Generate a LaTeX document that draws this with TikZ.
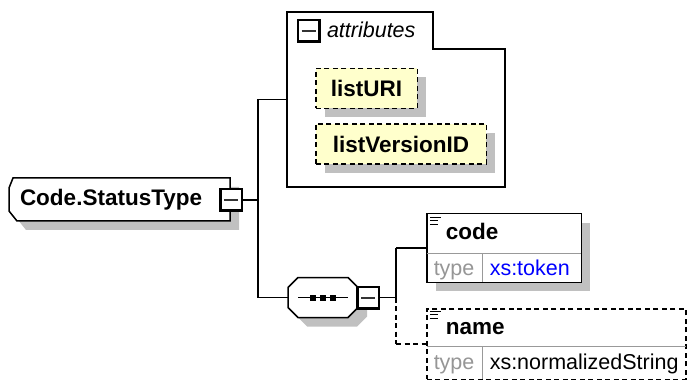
\documentclass[tikz,border=0pt]{standalone}
\usepackage{fontspec}
\setmainfont{Liberation Sans}
\usepackage{xcolor}
\usetikzlibrary{shadows, positioning, calc}

\definecolor{attrfill}{RGB}{255,255,204}
\definecolor{shadegray}{RGB}{192,192,192}
\definecolor{typeblue}{RGB}{0,0,255}
\definecolor{labelgray}{RGB}{150,150,150}
\newcommand{\diagfont}{\fontsize{21.5}{24}\selectfont}
\newcommand{\boldfont}{\fontsize{22.5}{24}\selectfont\bfseries}

\begin{document}
\begin{tikzpicture}[x=1pt, y=-1pt, line width=1.5pt, line join=miter,
  every node/.style={inner sep=0pt, outer sep=0pt, font=\diagfont},
  shadowed/.style={drop shadow={shadow xshift=9pt, shadow yshift=-9pt, fill=shadegray, opacity=1}},
  dashline/.style={dash pattern=on 5pt off 3.5pt},
  minusbox/.style={draw, fill=white, line width=2.5pt, minimum size=21.5pt,
    path picture={\draw[line width=2pt, black!80] ([xshift=-7pt]path picture bounding box.center) -- ([xshift=7pt]path picture bounding box.center);}},
  attrbox/.style={draw, dashline, fill=attrfill, minimum height=40pt, font=\boldfont, shadowed},
  divider/.style={line width=1pt, black!40},
  icon/.style={line width=1.2pt}]
\useasboundingbox (0,0) rectangle (688,382);

% Complex type
\node[minimum width=221pt, minimum height=43pt] (typeBox) at (119.5,199.5) {};
\draw[fill=white, shadowed] ($(typeBox.north west)+(4,0)$) -- (typeBox.north east) -- (typeBox.south east)
  -- ($(typeBox.south west)+(8,0)$) -- ($(typeBox.south west)+(0,-10)$) -- ($(typeBox.north west)+(0,10)$) -- cycle;
\node[anchor=base west, font=\boldfont] (typeName) at (20,206) {Code.StatusType};
\node[minusbox] (typeMinus) at (231,200) {};

% Attributes group
\node[minimum width=218pt, minimum height=175pt] (attrs) at (396,99.5) {};
\draw (attrs.north west) -- ($(attrs.north west)+(146,0)$) |- ($(attrs.north east)+(0,37)$)
  -- (attrs.south east) -- (attrs.south west) -- cycle;
\node[minusbox] (attrMinus) at (308.5,31) {};
\node[anchor=base west, font=\diagfont\itshape] (attrLabel) at (327,38) {attributes};
\node[attrbox, minimum width=101.5pt] (listURI) at (366.5,88.5) {listURI};
\node[attrbox, minimum width=170.5pt] (listVersionID) at (401,144) {listVersionID};

% Bus from the type
\coordinate (busTop) at (258,99.5);
\coordinate (busBot) at (258,297.5);
\draw (typeMinus.east) -- (typeMinus.east -| busTop);
\draw (busTop) -- (busBot);
\draw (busTop) -- (attrs.west);

% Sequence
\node[minimum width=70pt, minimum height=40pt] (seq) at (323,297.5) {};
\draw[fill=white, shadowed] ($(seq.north west)+(10,0)$) -- ($(seq.north east)+(-10,0)$) -- ($(seq.north east)+(0,10)$)
  -- ($(seq.south east)+(0,-10)$) -- ($(seq.south east)+(-10,0)$) -- ($(seq.south west)+(10,0)$)
  -- ($(seq.south west)+(0,-10)$) -- ($(seq.north west)+(0,10)$) -- cycle;
\draw (busBot) -- (seq.west);
\draw ([xshift=-25pt]seq.center) -- ([xshift=25pt]seq.center);
\foreach \dx in {-10,0,10}
  \fill ([xshift=\dx pt]seq.center) +(-3,-3) rectangle +(3,3);
\node[minusbox] (seqMinus) at (368,297.5) {};

% Elements
\node[draw, fill=white, minimum width=154.5pt, minimum height=68.5pt, shadowed] (codeBox) at (504,248) {};
\draw[divider] ($(codeBox.north west)+(0,40)$) -- ($(codeBox.north east)+(0,40)$);
\draw[divider] ($(codeBox.north west)+(56,40)$) -- ($(codeBox.south west)+(56,0)$);
\draw[icon] ($(codeBox.north west)+(3,3.5)$) -- +(11,0);
\draw[icon] ($(codeBox.north west)+(3,7)$) -- +(8,0);
\draw[icon] ($(codeBox.north west)+(3,10.5)$) -- +(8,0);
\node[anchor=base west, font=\boldfont] (codeName) at ($(codeBox.north west)+(19,26)$) {code};
\node[anchor=base west, text=labelgray] (codeType) at ($(codeBox.north west)+(7,62)$) {type};
\node[anchor=base west, text=typeblue] (codeValue) at ($(codeBox.north west)+(63,62)$) {xs:token};

\node[draw, dashline, fill=white, minimum width=259pt, minimum height=70.5pt] (nameBox) at (556.25,344) {};
\draw[divider] ($(nameBox.north west)+(0,38)$) -- ($(nameBox.north east)+(0,38)$);
\draw[divider] ($(nameBox.north west)+(56,38)$) -- ($(nameBox.south west)+(56,0)$);
\draw[icon] ($(nameBox.north west)+(3,2.5)$) -- +(11,0);
\draw[icon] ($(nameBox.north west)+(3,6)$) -- +(8,0);
\draw[icon] ($(nameBox.north west)+(3,9.5)$) -- +(8,0);
\node[anchor=base west, font=\boldfont] (nameName) at ($(nameBox.north west)+(19,26)$) {name};
\node[anchor=base west, text=labelgray] (nameType) at ($(nameBox.north west)+(7,61)$) {type};
\node[anchor=base west] (nameValue) at ($(nameBox.north west)+(63,61)$) {xs:normalizedString};

% Bus from the sequence
\coordinate (seqBusTop) at (396,248);
\coordinate (seqBusBot) at (396,344);
\draw (seqMinus.east) -- (seqMinus.east -| seqBusTop);
\draw (seqBusTop) -- (seqBusTop |- seqMinus.east);
\draw[dashline] (seqBusTop |- seqMinus.east) -- (seqBusBot);
\draw (seqBusTop) -- (codeBox.west);
\draw[dashline] (seqBusBot) -- (nameBox.west);
\end{tikzpicture}
\end{document}
